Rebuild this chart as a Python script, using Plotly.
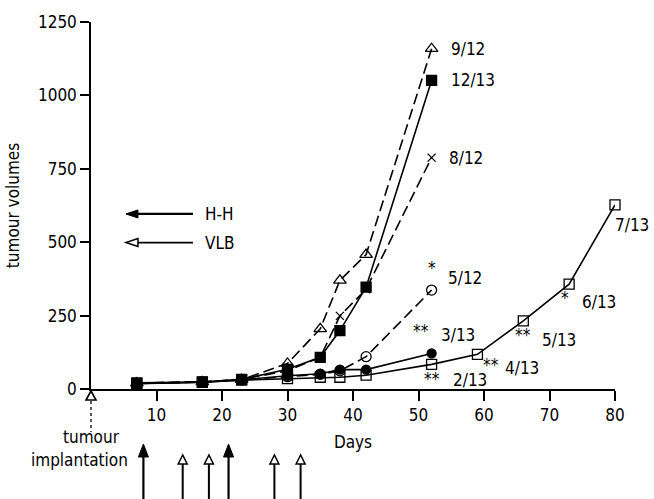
import plotly.graph_objects as go

# ---------------- data ----------------
days = [7, 17, 23, 30, 35, 38, 42, 52]
days_long = [7, 17, 23, 30, 35, 38, 42, 52, 59, 66, 73, 80]

tri_open = [20, 24, 32, 87, 205, 370, 458, 1159]       # 9/12
sq_filled = [21, 24, 33, 67, 108, 199, 347, 1051]      # 12/13
x_marker = [20, 24, 33, 62, 108, 249, 340, 788]        # 8/12
circ_open = [19, 24, 31, 42, 50, 62, 110, 337]         # 5/12
circ_filled = [19, 23, 31, 45, 52, 66, 66, 121]        # 3/13
sq_open = [18, 23, 30, 35, 40, 40, 47, 84, 118, 232, 357, 627]  # 2/13 ... 7/13

hh_days = [8, 21]               # H-H treatment days
vlb_days = [14, 18, 28, 32]     # VLB treatment days
implant_day = [0]

X_RANGE = [0, 80]
Y_RANGE = [0, 1250]

FONT = "DejaVu Sans Condensed"

fig = go.Figure()

def add(xs, ys, symbol, dash, size=9, lw=1.6):
    fig.add_trace(go.Scatter(
        x=xs, y=ys, mode="lines+markers",
        line=dict(color="black", width=lw, dash=dash),
        marker=dict(symbol=symbol, size=size, color="black",
                    line=dict(color="black", width=1.3)),
        cliponaxis=False, showlegend=False))

DASH = "11px,5px"
add(days, tri_open, "triangle-up-open", DASH, size=11)
add(days, sq_filled, "square", "solid", size=10)
add(days, x_marker, "x-thin-open", DASH, size=8)
add(days, circ_open, "circle-open", DASH, size=10)
add(days, circ_filled, "circle", "solid", size=9)
add(days_long, sq_open, "square-open", "solid", size=10)

ann = []
def lab(x, y, text, xs, ys, anchor="left", size=17):
    ann.append(dict(x=x, y=y, xref="x", yref="y", text=text, showarrow=False,
                    xanchor=anchor, yanchor="middle", xshift=xs, yshift=ys,
                    font=dict(family=FONT, size=size, color="#000000")))

lab(days[-1], tri_open[-1], "9/12", 17, 0)
lab(days[-1], sq_filled[-1], "12/13", 17, 0)
lab(days[-1], x_marker[-1], "8/12", 15, 0)
lab(days[-1], circ_open[-1], "5/12", 14, 12)
lab(days[-1], circ_open[-1], "*", 0, 22, anchor="center")
lab(days[-1], circ_filled[-1], "**", -11, 22, anchor="center")
lab(days[-1], circ_filled[-1], "3/13", 7, 18)
lab(days_long[7], sq_open[7], "**", 0, -15, anchor="center")
lab(days_long[7], sq_open[7], "2/13", 19, -16)
lab(days_long[8], sq_open[8], "**", 14, -11, anchor="center")
lab(days_long[8], sq_open[8], "4/13", 26, -14)
lab(days_long[9], sq_open[9], "**", 0, -14, anchor="center")
lab(days_long[9], sq_open[9], "5/13", 17, -19)
lab(days_long[10], sq_open[10], "*", -4, -14, anchor="center")
lab(days_long[10], sq_open[10], "6/13", 11, -18)
lab(days_long[11], sq_open[11], "7/13", -2, -20)

# tumour implantation text
ann.append(dict(x=implant_day[0], y=0, xref="x", yref="paper", text="tumour",
                showarrow=False, xanchor="center", yanchor="middle", yshift=-48,
                font=dict(family=FONT, size=17, color="black")))
ann.append(dict(x=implant_day[0], y=0, xref="x", yref="paper", text="implantation",
                showarrow=False, xanchor="center", yanchor="middle", xshift=-12, yshift=-71,
                font=dict(family=FONT, size=17, color="black")))
# legend text
ann.append(dict(x=0.213, y=0.477, xref="paper", yref="paper", text="H-H", showarrow=False,
                xanchor="left", yanchor="middle", font=dict(family=FONT, size=17, color="black")))
ann.append(dict(x=0.213, y=0.399, xref="paper", yref="paper", text="VLB", showarrow=False,
                xanchor="left", yanchor="middle", font=dict(family=FONT, size=17, color="black")))

shapes = []
def pshape(xref, xanchor, yref, yanchor, path, fill="black", lw=2, dash="solid"):
    shapes.append(dict(type="path", xref=xref, yref=yref, xsizemode="pixel", ysizemode="pixel",
                       xanchor=xanchor, yanchor=yanchor, path=path, fillcolor=fill,
                       line=dict(color="black", width=lw, dash=dash), layer="above"))

# treatment arrows
for d in hh_days:
    pshape("x", d, "paper", 0, "M0,-112 L0,-62", lw=2.2)
    pshape("x", d, "paper", 0, "M0,-55 L-5,-68 L5,-68 Z", lw=1)
for d in vlb_days:
    pshape("x", d, "paper", 0, "M0,-112 L0,-74", lw=2)
    pshape("x", d, "paper", 0, "M0,-66 L-4.5,-75 L4.5,-75 Z", fill="white", lw=1.5)
# implantation marker (paper ref so it is not clipped at the axis edge)
for d in implant_day:
    xp = (d - X_RANGE[0]) / (X_RANGE[1] - X_RANGE[0])
    pshape("paper", xp, "paper", 0, "M0,-12 L0,-43", lw=1.3, dash="dot")
    pshape("paper", xp, "paper", 0, "M0,-2 L-5,-11 L5,-11 Z", fill="white", lw=1.6)

# legend arrows
pshape("paper", 0.0667, "paper", 0.477, "M4,0 L67,0", lw=2.2)
pshape("paper", 0.0667, "paper", 0.477, "M0,0 L12,-4 L12,4 Z", lw=1)
pshape("paper", 0.0667, "paper", 0.399, "M12,0 L67,0", lw=1.8)
pshape("paper", 0.0667, "paper", 0.399, "M0,0 L12,-4 L12,4 Z", fill="white", lw=1.5)

fig.update_layout(
    width=654, height=499,
    margin=dict(l=90, r=39, t=18, b=110),
    paper_bgcolor="white", plot_bgcolor="white",
    font=dict(family=FONT, size=16, color="black"),
    annotations=ann, shapes=shapes,
    xaxis=dict(range=X_RANGE, tickvals=[10, 20, 30, 40, 50, 60, 70, 80],
               showgrid=False, zeroline=False, showline=True, linecolor="black", linewidth=2,
               ticks="outside", ticklen=10, tickwidth=1.5, tickcolor="black",
               tickfont=dict(family=FONT, size=17),
               title=dict(text="Days", font=dict(family=FONT, size=17), standoff=12)),
    yaxis=dict(range=Y_RANGE, tickvals=[0, 250, 500, 750, 1000, 1250],
               showgrid=False, zeroline=False, showline=True, linecolor="black", linewidth=1.5,
               ticks="outside", ticklen=9, tickwidth=1.5, tickcolor="black",
               tickfont=dict(family=FONT, size=17),
               title=dict(text="tumour volumes", font=dict(family=FONT, size=17), standoff=14)),
)

fig.write_html("out.html")
